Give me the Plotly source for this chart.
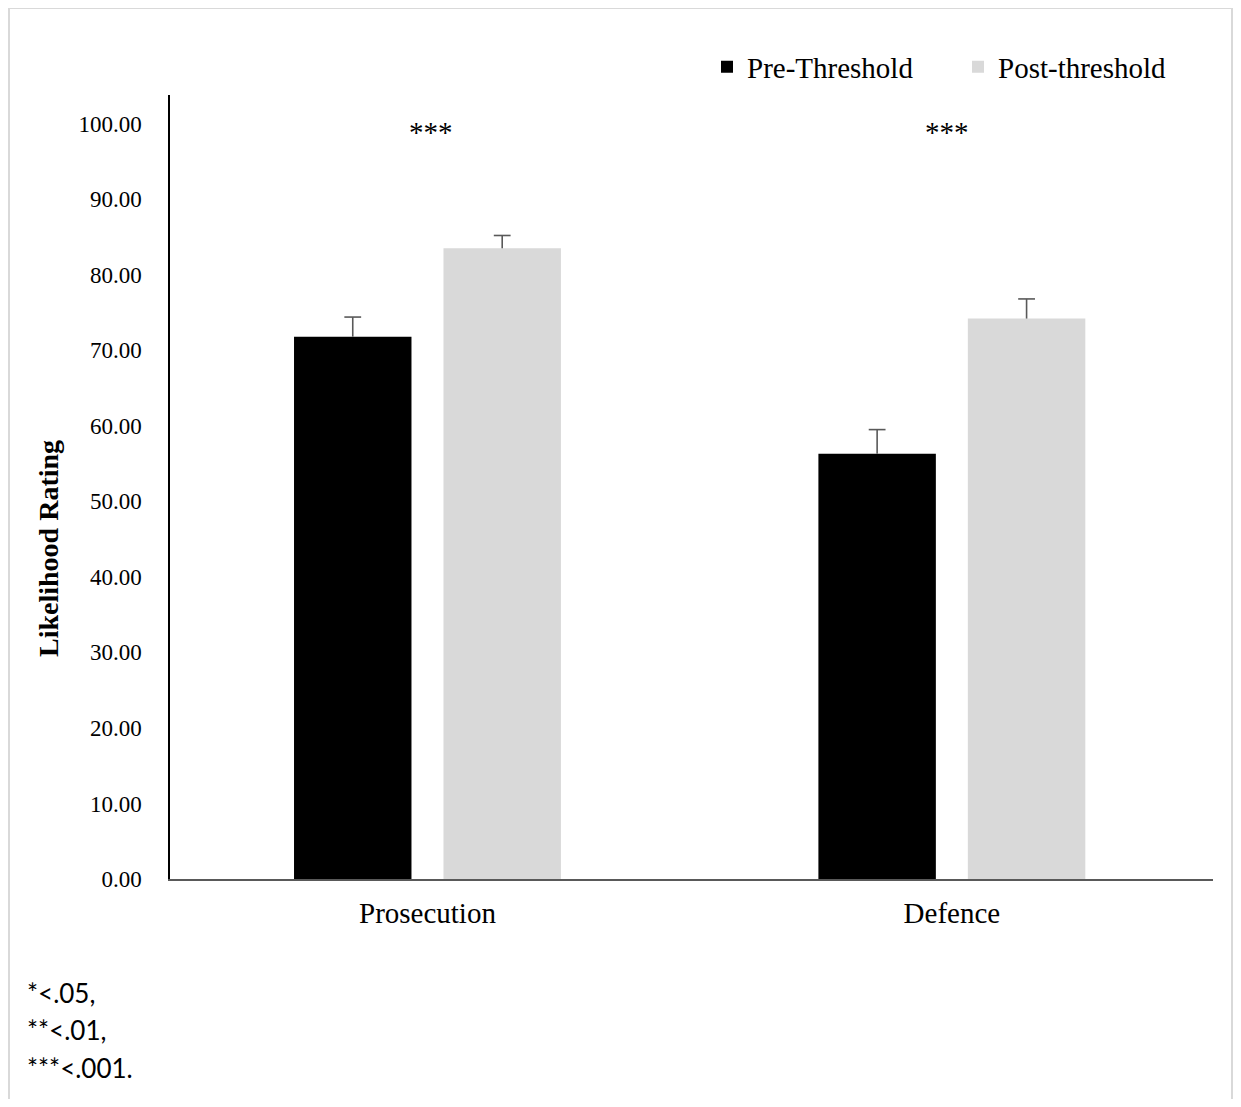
import plotly.graph_objects as go

categories = ["Prosecution", "Defence"]
pre_values = [71.8, 56.3]
pre_errors = [2.6, 3.2]
post_values = [83.5, 74.2]
post_errors = [1.7, 2.6]
series_names = ["Pre-Threshold", "Post-threshold"]
sig_labels = ["***", "***"]
sig_y = [98.9, 98.9]
tick_vals = [0, 10, 20, 30, 40, 50, 60, 70, 80, 90, 100]
footnote_lines = ["*<.05,", "**<.01,", "***<.001."]

# figure is placed 8px into the page by the body margin
W, H = 1225, 1091
L, R, T, B = 162, 20, 87, 220
pw, ph = W - L - R, H - T - B

def px_x(x):
    return (x - L) / pw

def px_y(y):
    return (H - B - y) / ph

serif = "Liberation Serif"
err_color = "#595959"
bar_w = 0.224
offset = 0.1425
cat_pos = list(range(len(categories)))
pre_x = [c - offset for c in cat_pos]
post_x = [c + offset for c in cat_pos]
sig_xshift = [4, -5]

fig = go.Figure()
for xs, vals, errs, name, color in [
    (pre_x, pre_values, pre_errors, series_names[0], "#000000"),
    (post_x, post_values, post_errors, series_names[1], "#d9d9d9"),
]:
    fig.add_trace(go.Bar(
        x=xs, y=vals, name=name, width=bar_w,
        marker=dict(color=color, line=dict(width=0)),
        error_y=dict(type="data", array=errs, symmetric=False,
                     arrayminus=[0] * len(errs),
                     color=err_color, thickness=1.6, width=0),
    ))
    fig.add_trace(go.Scatter(
        x=xs, y=[v + e for v, e in zip(vals, errs)], mode="markers",
        marker=dict(symbol="line-ew", size=12,
                    line=dict(color=err_color, width=1.6)),
        showlegend=False, hoverinfo="skip",
    ))

for c, s, yv, xs_ in zip(cat_pos, sig_labels, sig_y, sig_xshift):
    fig.add_annotation(x=c, y=yv, text=s, showarrow=False, xshift=xs_,
                       font=dict(family=serif, size=29, color="#000"),
                       xanchor="center", yanchor="middle")

for line, yp in zip(footnote_lines, [985, 1022, 1060]):
    fig.add_annotation(xref="paper", yref="paper", x=px_x(17), y=px_y(yp),
                       text=line, showarrow=False, align="left",
                       xanchor="left", yanchor="middle",
                       font=dict(family="Lato", size=26, color="#000"))

fig.add_annotation(xref="paper", yref="paper", x=px_x(40), y=px_y(541),
                   text="<b>Likelihood Rating</b>", showarrow=False, textangle=-90,
                   xanchor="center", yanchor="middle",
                   font=dict(family=serif, size=28, color="#000"))

# outer frame
for x0, y0, x1, y1 in [(1, 0, 1, H), (1, 0, W - 1, 0), (W - 1, 0, W - 1, H)]:
    fig.add_shape(type="line", xref="paper", yref="paper",
                  x0=px_x(x0), x1=px_x(x1), y0=px_y(y0), y1=px_y(y1),
                  line=dict(color="#d9d9d9", width=2), layer="below")

fig.update_layout(
    width=W, height=H,
    margin=dict(l=L, r=R, t=T, b=B, pad=0),
    plot_bgcolor="white", paper_bgcolor="white",
    barmode="overlay",
    showlegend=True,
    legend=dict(orientation="h", x=px_x(699), y=px_y(59), xanchor="left", yanchor="middle",
                font=dict(family=serif, size=29, color="#000"),
                entrywidth=206, entrywidthmode="pixels",
                itemsizing="constant", traceorder="normal",
                bgcolor="rgba(0,0,0,0)"),
    xaxis=dict(showline=True, linecolor="#595959", linewidth=2, ticks="",
               tickvals=cat_pos, ticktext=categories, ticklabelstandoff=7,
               tickfont=dict(family=serif, size=29, color="#000"),
               showgrid=False, zeroline=False, range=[-0.491, 1.498]),
    yaxis=dict(showline=True, linecolor="#000", linewidth=1.5, ticks="",
               range=[0, 103.8], tickvals=tick_vals, tickformat=".2f",
               ticklabelstandoff=22,
               tickfont=dict(family=serif, size=23, color="#000"),
               showgrid=False, zeroline=False),
)

fig.write_html("out.html")
